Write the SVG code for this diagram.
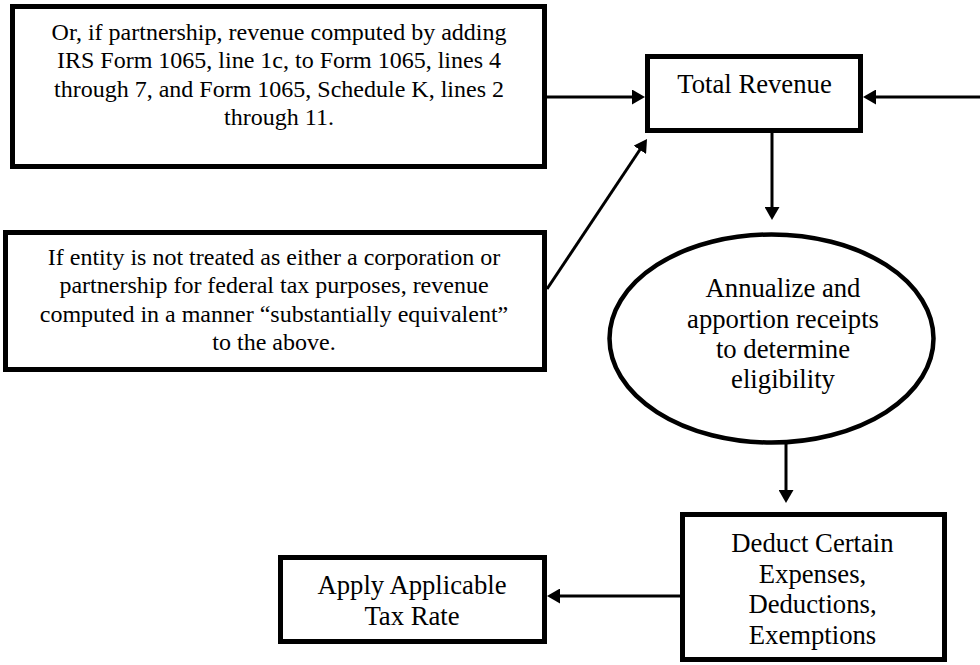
<svg xmlns="http://www.w3.org/2000/svg" width="980" height="665" viewBox="0 0 980 665">
<style>
.box{fill:#fff;stroke:#000;stroke-width:5}
.t{font-family:"Liberation Serif","Times New Roman",serif;fill:#000;text-anchor:middle}
.s{font-size:24px}
.b{font-size:26.7px}
.c{stroke:#000;stroke-width:3;fill:none;marker-end:url(#ah)}
</style>
<defs>
<marker id="ah" markerUnits="userSpaceOnUse" markerWidth="13" markerHeight="15" refX="7" refY="7.5" orient="auto">
<path d="M0,0 L13,7.5 L0,15 z" fill="#000"/>
</marker>
</defs>
<rect width="980" height="665" fill="#fff"/>
<g id="connectors">
<line class="c" x1="547" y1="97" x2="639" y2="97"/>
<line class="c" x1="980" y1="97" x2="869" y2="97"/>
<line class="c" x1="547" y1="289" x2="643.7" y2="144"/>
<line class="c" x1="772" y1="133" x2="772" y2="214"/>
<line class="c" x1="786" y1="443" x2="786" y2="497"/>
<line class="c" x1="680" y1="596" x2="553" y2="596"/>
</g>
<g id="partnership">
<rect class="box" x="12.5" y="6.5" width="532" height="160"/>
<text class="t s" x="279"><tspan x="279" y="40">Or, if partnership, revenue computed by adding</tspan><tspan x="279" y="68.3">IRS Form 1065, line 1c, to Form 1065, lines 4</tspan><tspan x="279" y="96.6">through 7, and Form 1065, Schedule K, lines 2</tspan><tspan x="279" y="124.9">through 11.</tspan></text>
</g>
<g id="other-entity">
<rect class="box" x="5.5" y="232.5" width="539" height="137"/>
<text class="t s" x="274"><tspan x="274" y="265">If entity is not treated as either a corporation or</tspan><tspan x="274" y="293.3">partnership for federal tax purposes, revenue</tspan><tspan x="274" y="321.6">computed in a manner “substantially equivalent”</tspan><tspan x="274" y="349.9">to the above.</tspan></text>
</g>
<g id="total-revenue">
<rect class="box" x="647.5" y="56.5" width="213" height="74"/>
<text class="t b" x="754.5" y="93">Total Revenue</text>
</g>
<g id="annualize">
<ellipse cx="771.5" cy="338.5" rx="162" ry="104" fill="#fff" stroke="#000" stroke-width="4.5"/>
<text class="t b" x="783"><tspan x="783" y="297">Annualize and</tspan><tspan x="783" y="327.5">apportion receipts</tspan><tspan x="783" y="358">to determine</tspan><tspan x="783" y="388">eligibility</tspan></text>
</g>
<g id="deduct">
<rect class="box" x="682.5" y="514.5" width="262" height="145"/>
<text class="t b" x="812.5"><tspan x="812.5" y="552">Deduct Certain</tspan><tspan x="812.5" y="582.5">Expenses,</tspan><tspan x="812.5" y="613">Deductions,</tspan><tspan x="812.5" y="643.5">Exemptions</tspan></text>
</g>
<g id="apply-rate">
<rect class="box" x="280.5" y="557.5" width="264" height="84"/>
<text class="t b" x="412"><tspan x="412" y="594">Apply Applicable</tspan><tspan x="412" y="625">Tax Rate</tspan></text>
</g>
</svg>
